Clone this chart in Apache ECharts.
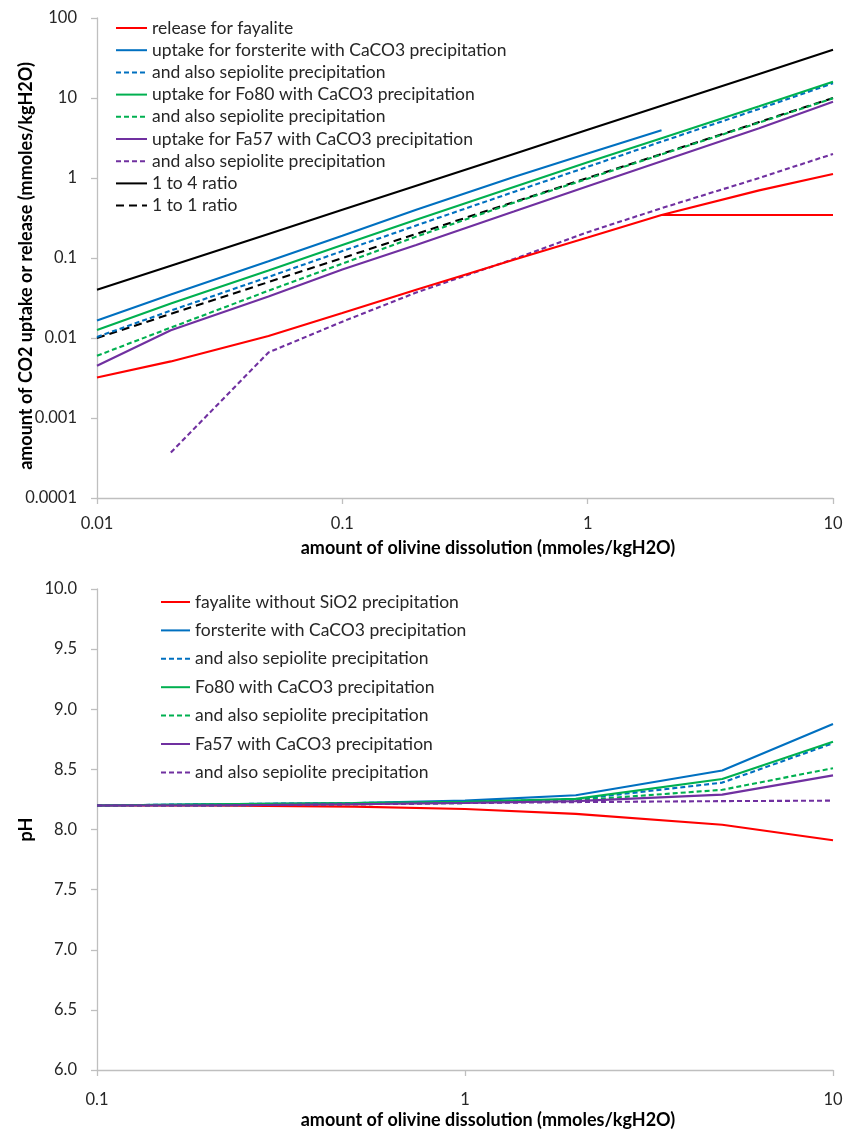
<!DOCTYPE html>
<html>
<head>
<meta charset="utf-8">
<script src="https://cdn.jsdelivr.net/npm/echarts@6/dist/echarts.min.js"></script>
<style>
html,body{margin:0;padding:0;background:#fff;}
#chart{width:845px;height:1132px;}
</style>
</head>
<body>
<div id="chart"></div>
<script>
// ---------- top chart data (log-log) ----------
const topX = [0.01, 0.02, 0.05, 0.1, 0.2, 0.5, 1, 2, 5, 10];
const releaseFayalite = [0.0032, 0.0051, 0.0106, 0.0205, 0.040, 0.095, 0.18, 0.345, 0.70, 1.12];
const releaseFayaliteBranchX = [2, 10];
const releaseFayaliteBranchY = [0.345, 0.345];
const uptakeForsterite = [0.0165, 0.035, 0.091, 0.19, 0.40, 1.03, 2.02, 3.95, null, null];
const uptakeForsteriteSep = [0.0103, 0.022, 0.058, 0.122, 0.255, 0.67, 1.38, 2.85, 7.3, 15.3];
const uptakeFo80 = [0.0126, 0.027, 0.07, 0.145, 0.30, 0.77, 1.57, 3.15, 7.9, 16.0];
const uptakeFo80Sep = [0.006, 0.0135, 0.039, 0.085, 0.185, 0.49, 0.98, 1.97, 4.93, 9.9];
const uptakeFa57 = [0.0045, 0.0125, 0.033, 0.0716, 0.145, 0.38, 0.79, 1.62, 4.2, 9.0];
const uptakeFa57Sep = [null, 0.00037, 0.0066, 0.016, 0.037, 0.097, 0.21, 0.42, 1.0, 2.0];
const ratio1to4 = [0.04, 0.08, 0.2, 0.4, 0.8, 2, 4, 8, 20, 40];
const ratio1to1 = [0.01, 0.02, 0.05, 0.1, 0.2, 0.5, 1, 2, 5, 10];

const topLegendNames = [
  'release for fayalite',
  'uptake for forsterite with CaCO3 precipitation',
  'and also sepiolite precipitation',
  'uptake for Fo80 with CaCO3 precipitation',
  'and also sepiolite precipitation',
  'uptake for Fa57 with CaCO3 precipitation',
  'and also sepiolite precipitation',
  '1 to 4 ratio',
  '1 to 1 ratio'
];
const topXTicks = ['0.01', '0.1', '1', '10'];
const topYTicks = ['0.0001', '0.001', '0.01', '0.1', '1', '10', '100'];
const topXTitle = 'amount of olivine dissolution (mmoles/kgH2O)';
const topYTitle = 'amount of CO2 uptake or release (mmoles/kgH2O)';

// ---------- bottom chart data (pH) ----------
const botX = [0.1, 0.2, 0.5, 1, 2, 5, 10];
const pHFayalite = [8.20, 8.20, 8.19, 8.17, 8.13, 8.04, 7.91];
const pHForsterite = [8.20, 8.21, 8.22, 8.24, 8.285, 8.49, 8.877];
const pHForsteriteSep = [8.20, 8.21, 8.22, 8.23, 8.25, 8.39, 8.717];
const pHFo80 = [8.20, 8.21, 8.22, 8.23, 8.255, 8.42, 8.73];
const pHFo80Sep = [8.20, 8.20, 8.21, 8.22, 8.242, 8.33, 8.51];
const pHFa57 = [8.20, 8.20, 8.21, 8.22, 8.236, 8.29, 8.45];
const pHFa57Sep = [8.20, 8.20, 8.21, 8.22, 8.228, 8.236, 8.24];

const botLegendNames = [
  'fayalite without SiO2 precipitation',
  'forsterite with CaCO3 precipitation',
  'and also sepiolite precipitation',
  'Fo80 with CaCO3 precipitation',
  'and also sepiolite precipitation',
  'Fa57 with CaCO3 precipitation',
  'and also sepiolite precipitation'
];
const botXTicks = ['0.1', '1', '10'];
const botYTicks = ['6.0', '6.5', '7.0', '7.5', '8.0', '8.5', '9.0', '9.5', '10.0'];
const botXTitle = 'amount of olivine dissolution (mmoles/kgH2O)';
const botYTitle = 'pH';

// ---------- styling ----------
const RED = '#FF0000', BLUE = '#0070C0', GREEN = '#00B050', PURPLE = '#7030A0', BLACK = '#000000';
const FONT = 'Lato';
const DASH = [5, 3];
const LONGDASH = [8, 5];
const AXIS_COLOR = '#BFBFBF';
const LABEL_COLOR = '#262626';

function pairs(xs, ys) {
  const out = [];
  for (let i = 0; i < xs.length; i++) {
    if (ys[i] !== null && ys[i] !== undefined) out.push([xs[i], ys[i]]);
  }
  return out;
}

function lineSeries(id, xs, ys, color, dash, axisIdx, width) {
  return {
    type: 'line',
    name: id,
    xAxisIndex: axisIdx,
    yAxisIndex: axisIdx,
    data: pairs(xs, ys),
    symbol: 'none',
    showSymbol: false,
    smooth: false,
    animation: false,
    silent: true,
    lineStyle: { color: color, width: width || 2.1, type: dash || 'solid' },
    itemStyle: { color: color, opacity: 0 },
    z: 2
  };
}

const topIds = ['t0', 't1', 't2', 't3', 't4', 't5', 't6', 't7', 't8'];
const botIds = ['b0', 'b1', 'b2', 'b3', 'b4', 'b5', 'b6'];
const nameMap = {};
topIds.forEach((id, i) => nameMap[id] = topLegendNames[i]);
botIds.forEach((id, i) => nameMap[id] = botLegendNames[i]);

function logLabel(ticks, minExp) {
  return function (v) {
    const k = Math.round(Math.log10(v)) - minExp;
    return ticks[k] !== undefined ? ticks[k] : '';
  };
}

const series = [
  lineSeries('t7', topX, ratio1to4, BLACK, null, 0),
  lineSeries('t8', topX, ratio1to1, BLACK, LONGDASH, 0),
  lineSeries('t1', topX, uptakeForsterite, BLUE, null, 0),
  lineSeries('t2', topX, uptakeForsteriteSep, BLUE, DASH, 0),
  lineSeries('t3', topX, uptakeFo80, GREEN, null, 0),
  lineSeries('t4', topX, uptakeFo80Sep, GREEN, DASH, 0),
  lineSeries('t5', topX, uptakeFa57, PURPLE, null, 0),
  lineSeries('t6', topX, uptakeFa57Sep, PURPLE, DASH, 0),
  lineSeries('t0', topX, releaseFayalite, RED, null, 0),
  lineSeries('t0b', releaseFayaliteBranchX, releaseFayaliteBranchY, RED, null, 0),
  lineSeries('b0', botX, pHFayalite, RED, null, 1),
  lineSeries('b1', botX, pHForsterite, BLUE, null, 1),
  lineSeries('b2', botX, pHForsteriteSep, BLUE, DASH, 1),
  lineSeries('b3', botX, pHFo80, GREEN, null, 1),
  lineSeries('b4', botX, pHFo80Sep, GREEN, DASH, 1),
  lineSeries('b5', botX, pHFa57, PURPLE, null, 1),
  lineSeries('b6', botX, pHFa57Sep, PURPLE, DASH, 1)
];

const titleStyle = { fontFamily: FONT, fontWeight: 'bold', fontSize: 18, color: '#000' };

const axisCommon = {
  nameMoveOverlap: false,
  axisLine: { show: true, lineStyle: { color: AXIS_COLOR, width: 1.3 } },
  axisTick: { show: true, inside: false, length: 6, lineStyle: { color: AXIS_COLOR, width: 1.3 } },
  splitLine: { show: false },
  minorTick: { show: false }
};

const legendCommon = {
  orient: 'vertical',
  padding: 0,
  itemWidth: 31,
  itemHeight: 14,
  selectedMode: false,
  itemStyle: { opacity: 0 },
  formatter: function (n) { return nameMap[n]; },
  textStyle: { fontFamily: FONT, fontSize: 17.5, color: LABEL_COLOR, lineHeight: 18 }
};

const labelStyle = { fontFamily: FONT, fontSize: 16.5, color: LABEL_COLOR };

const option = {
  backgroundColor: '#fff',
  animation: false,
  grid: [
    { left: 97, top: 18, width: 736, height: 480, containLabel: false, outerBoundsMode: 'none' },
    { left: 97, top: 589, width: 736, height: 481, containLabel: false, outerBoundsMode: 'none' }
  ],
  legend: [
    Object.assign({}, legendCommon, { left: 115, top: 19, itemGap: 4.2, data: topIds }),
    Object.assign({}, legendCommon, { left: 160, top: 593, itemGap: 10.4, itemWidth: 29, data: botIds })
  ],
  xAxis: [
    Object.assign({}, axisCommon, {
      type: 'log', logBase: 10, gridIndex: 0, min: 0.01, max: 10,
      name: topXTitle, nameLocation: 'middle', nameGap: 41,
      nameTextStyle: Object.assign({}, titleStyle, { padding: [0, 0, 0, 46] }),
      axisLabel: Object.assign({ margin: 17, formatter: logLabel(topXTicks, -2) }, labelStyle)
    }),
    Object.assign({}, axisCommon, {
      type: 'log', logBase: 10, gridIndex: 1, min: 0.1, max: 10,
      name: botXTitle, nameLocation: 'middle', nameGap: 41,
      nameTextStyle: Object.assign({}, titleStyle, { padding: [0, 0, 0, 46] }),
      axisLabel: Object.assign({ margin: 21, formatter: logLabel(botXTicks, -1) }, labelStyle)
    })
  ],
  yAxis: [
    Object.assign({}, axisCommon, {
      type: 'log', logBase: 10, gridIndex: 0, min: 0.0001, max: 100, splitNumber: 10,
      name: topYTitle, nameLocation: 'middle', nameGap: 62,
      nameTextStyle: Object.assign({}, titleStyle, { padding: [0, 16, 0, 0] }),
      axisLabel: Object.assign({ margin: 20, formatter: logLabel(topYTicks, -4) }, labelStyle)
    }),
    Object.assign({}, axisCommon, {
      type: 'value', gridIndex: 1, min: 6, max: 10, interval: 0.5,
      name: botYTitle, nameLocation: 'middle', nameGap: 62,
      nameTextStyle: titleStyle,
      axisLabel: Object.assign({ margin: 20,
        formatter: function (v) { const k = Math.round((v - 6) / 0.5); return botYTicks[k] !== undefined ? botYTicks[k] : ''; } }, labelStyle)
    })
  ],
  series: series
};

const chart = echarts.init(document.getElementById('chart'), null, { renderer: 'canvas' });
chart.setOption(option);
</script>
</body>
</html>
